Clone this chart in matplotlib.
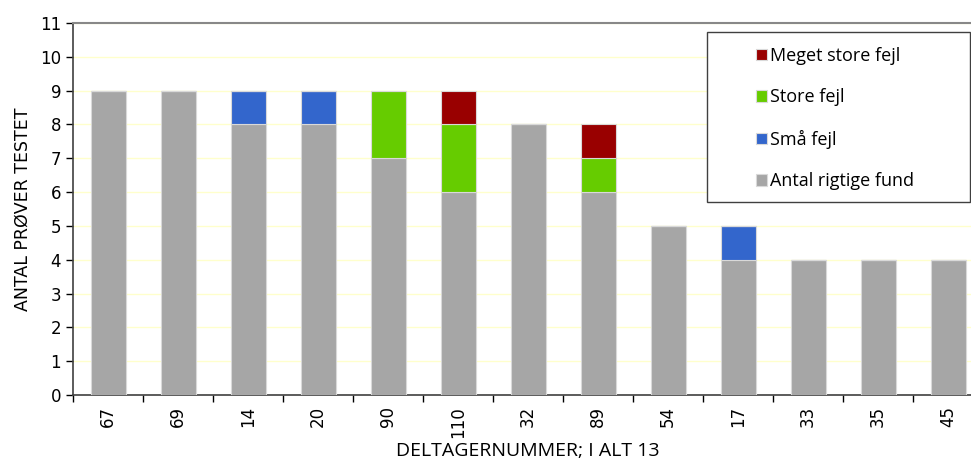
import matplotlib
matplotlib.use("Agg")
import matplotlib.pyplot as plt
from matplotlib.patches import Rectangle
import numpy as np

# participants (x axis) and stacked counts
participants = ["67", "69", "14", "20", "90", "110", "32", "89", "54", "17", "33", "35", "45"]
correct = [9, 9, 8, 8, 7, 6, 8, 6, 5, 4, 4, 4, 4]
small_err = [0, 0, 1, 1, 0, 0, 0, 0, 0, 1, 0, 0, 0]
large_err = [0, 0, 0, 0, 2, 2, 0, 1, 0, 0, 0, 0, 0]
very_large_err = [0, 0, 0, 0, 0, 1, 0, 1, 0, 0, 0, 0, 0]

series_labels = ["Antal rigtige fund", "Små fejl", "Store fejl", "Meget store fejl"]
colors = ["#A6A6A6", "#3366CC", "#66CC00", "#990000"]

W, H = 971, 465
fig = plt.figure(figsize=(W / 100, H / 100), dpi=100)
ax = fig.add_axes([73 / W, 70 / H, 910 / W, 372 / H])

x = np.arange(len(participants))
bottom = np.zeros(len(participants))
handles = []
for vals, lab, col in zip([correct, small_err, large_err, very_large_err], series_labels, colors):
    vals = np.array(vals)
    b = ax.bar(x, vals, width=0.5, bottom=bottom, color=col, edgecolor="#D9D9D9",
               linewidth=0.8, label=lab, zorder=3)
    handles.append(b)
    bottom = bottom + vals

ax.set_xlim(-0.5, len(participants) - 0.5)
ax.set_ylim(0, 11)
ax.set_yticks(range(0, 12))
ax.yaxis.grid(True, color="#FFFFCC", linewidth=1, zorder=0)
ax.set_axisbelow(True)

ax.set_xticks(x)
ax.set_xticklabels(participants, rotation=90, fontsize=12)
ax.set_xticks(np.arange(-0.5, len(participants) + 0.5, 1), minor=True)
ax.tick_params(axis="x", which="major", length=0, pad=8)
ax.tick_params(axis="x", which="minor", length=5, width=1, direction="out")
ax.tick_params(axis="y", length=5, width=1, labelsize=12, direction="out")

for s in ["left", "bottom"]:
    ax.spines[s].set_color("#404040")
    ax.spines[s].set_linewidth(1.2)
ax.spines["top"].set_color("#888888")
ax.spines["top"].set_linewidth(1.5)
ax.spines["right"].set_visible(False)

ax.set_ylabel("ANTAL PRØVER TESTET", fontsize=12.5, labelpad=6)
ax.set_xlabel("DELTAGERNUMMER; I ALT 13", fontsize=14, family="Open Sans", labelpad=3)

# legend frame drawn separately, entries placed inside
frame = Rectangle((707 / W, 1 - 202 / H), 263 / W, 170 / H, transform=fig.transFigure,
                  facecolor="white", edgecolor="#404040", linewidth=1.0, zorder=5)
fig.patches.append(frame)
leg = fig.legend(handles[::-1], series_labels[::-1], loc="upper left",
                 bbox_to_anchor=(756 / W, 1 - 47 / H), bbox_transform=fig.transFigure,
                 frameon=False, prop={"family": "Open Sans", "size": 13},
                 handlelength=0.6, handleheight=0.6, handletextpad=0.2,
                 labelspacing=1.3, borderpad=0, borderaxespad=0)
leg.set_zorder(6)

fig.savefig("out.png", dpi=100)
